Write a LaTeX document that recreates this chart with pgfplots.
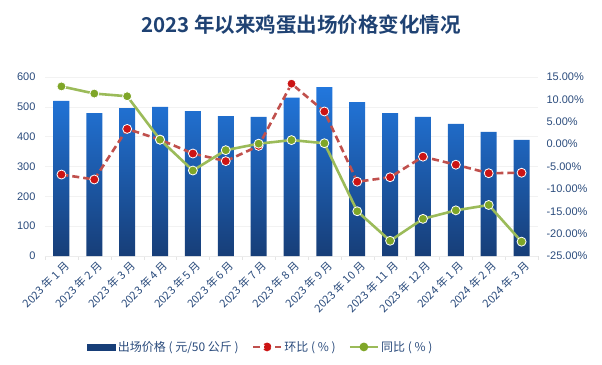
\documentclass[border=0pt]{standalone}
\usepackage{fontspec}
\setmainfont{Liberation Sans}
\newfontfamily\cjk{Noto Sans CJK SC}
\newfontfamily\cjkb{Noto Sans CJK SC Bold}
\usepackage{pgfplots}
\pgfplotsset{compat=1.18}
\definecolor{txt}{HTML}{2A4B7C}
\definecolor{ttl}{HTML}{1F4273}
\definecolor{barTop}{HTML}{2277DD}
\definecolor{barBot}{HTML}{173E78}
\definecolor{redl}{HTML}{C0504D}
\definecolor{redm}{HTML}{CC1414}
\definecolor{grnl}{HTML}{9BBB59}
\definecolor{grnm}{HTML}{7FA628}
\begin{document}
\begin{tikzpicture}
\begin{axis}[name=ax,
  scale only axis, width=493pt, height=179pt,
  xmin=-0.5, xmax=14.5, ymin=0, ymax=600,
  ytick={0,100,...,600},
  xtick={0,...,14},
  xticklabels={2023 年 1 月,2023 年 2 月,2023 年 3 月,2023 年 4 月,2023 年 5 月,2023 年 6 月,2023 年 7 月,2023 年 8 月,2023 年 9 月,2023 年 10 月,2023 年 11 月,2023 年 12 月,2024 年 1 月,2024 年 2 月,2024 年 3 月},
  minor xtick={-0.5,0.5,...,14.5},
  x tick label style={rotate=45, anchor=north east, font=\cjk\fontsize{11}{12}\selectfont, text=txt, inner sep=1pt, yshift=-3pt},
  y tick label style={font=\fontsize{11}{12}\selectfont, text=txt},
  /pgf/number format/assume math mode=true,
  axis y line*=left, axis x line*=bottom,
  y axis line style={draw=none},
  x axis line style={draw=gray!15},
  major tick length=0pt, minor tick length=4pt,
  xtick align=outside,
  minor tick style={draw=gray!20},
  ymajorgrids, grid style={draw=gray!10},
  yticklabel style={xshift=-6pt},
]
\addplot[ybar, bar width=16pt, draw=none, top color=barTop, bottom color=barBot] coordinates {
(0,520) (1,479) (2,496) (3,500) (4,486) (5,469) (6,466) (7,531) (8,566) (9,516) (10,479) (11,466) (12,443) (13,416) (14,389)};
\end{axis}
\begin{axis}[
  scale only axis, width=493pt, height=179pt,
  xmin=-0.5, xmax=14.5, ymin=-25, ymax=15,
  ytick={-25,-20,...,15},
  axis y line*=right, axis x line=none,
  y axis line style={draw=none},
  major tick length=0pt,
  yticklabel={\pgfmathprintnumber[fixed,fixed zerofill,precision=2]{\tick}\%},
  y tick label style={font=\fontsize{11}{12}\selectfont, text=txt, xshift=5pt},
  /pgf/number format/assume math mode=true,
  legend style={at={(0.438,-0.508)}, anchor=center, draw=none, fill=none,
    font=\cjk\fontsize{12}{14}\selectfont, text=txt, legend columns=3,
    /tikz/every even column/.append style={column sep=11pt}},
]
\addlegendimage{legend image code/.code={\fill[barBot] (0pt,-3pt) rectangle (28pt,3pt);}}
\addlegendentry{出场价格 ( 元/50 公斤 )}
\addplot[redl, line width=2.6pt, dash pattern=on 7pt off 4pt,
  mark=*, mark size=4.5pt, mark options={solid, fill=redm, draw=white, line width=0.8pt},
  legend image code/.code={\draw[redl, line width=2.6pt, dash pattern=on 7pt off 4pt] (0pt,0pt) -- (28pt,0pt); \fill[redm] (14pt,0pt) circle (3pt);}]
coordinates {(0,-6.8) (1,-7.9) (2,3.4) (3,1.0) (4,-2.1) (5,-3.8) (6,-0.4) (7,13.5) (8,7.3) (9,-8.4) (10,-7.4) (11,-2.8) (12,-4.6) (13,-6.5) (14,-6.4)};
\addlegendentry{环比 ( \% )}
\addplot[grnl, line width=2.6pt,
  mark=*, mark size=4.5pt, mark options={fill=grnm, draw=white, line width=0.8pt},
  legend image code/.code={\draw[grnl, line width=2.6pt] (0pt,0pt) -- (28pt,0pt); \fill[grnm] (14pt,0pt) circle (3pt);}]
coordinates {(0,12.9) (1,11.3) (2,10.7) (3,1.0) (4,-5.9) (5,-1.35) (6,0.1) (7,0.9) (8,0.2) (9,-15.0) (10,-21.6) (11,-16.7) (12,-14.8) (13,-13.6) (14,-21.8)};
\addlegendentry{同比 ( \% )}
\end{axis}
\node[font=\cjkb\fontsize{20.5}{24}\selectfont, text=ttl] at ([shift={(256pt,231pt)}]ax.south west) {2023 年以来鸡蛋出场价格变化情况};
\path[use as bounding box] ([shift={(-45pt,-108pt)}]ax.south west) rectangle ([shift={(557pt,256pt)}]ax.south west);
\end{tikzpicture}
\end{document}
